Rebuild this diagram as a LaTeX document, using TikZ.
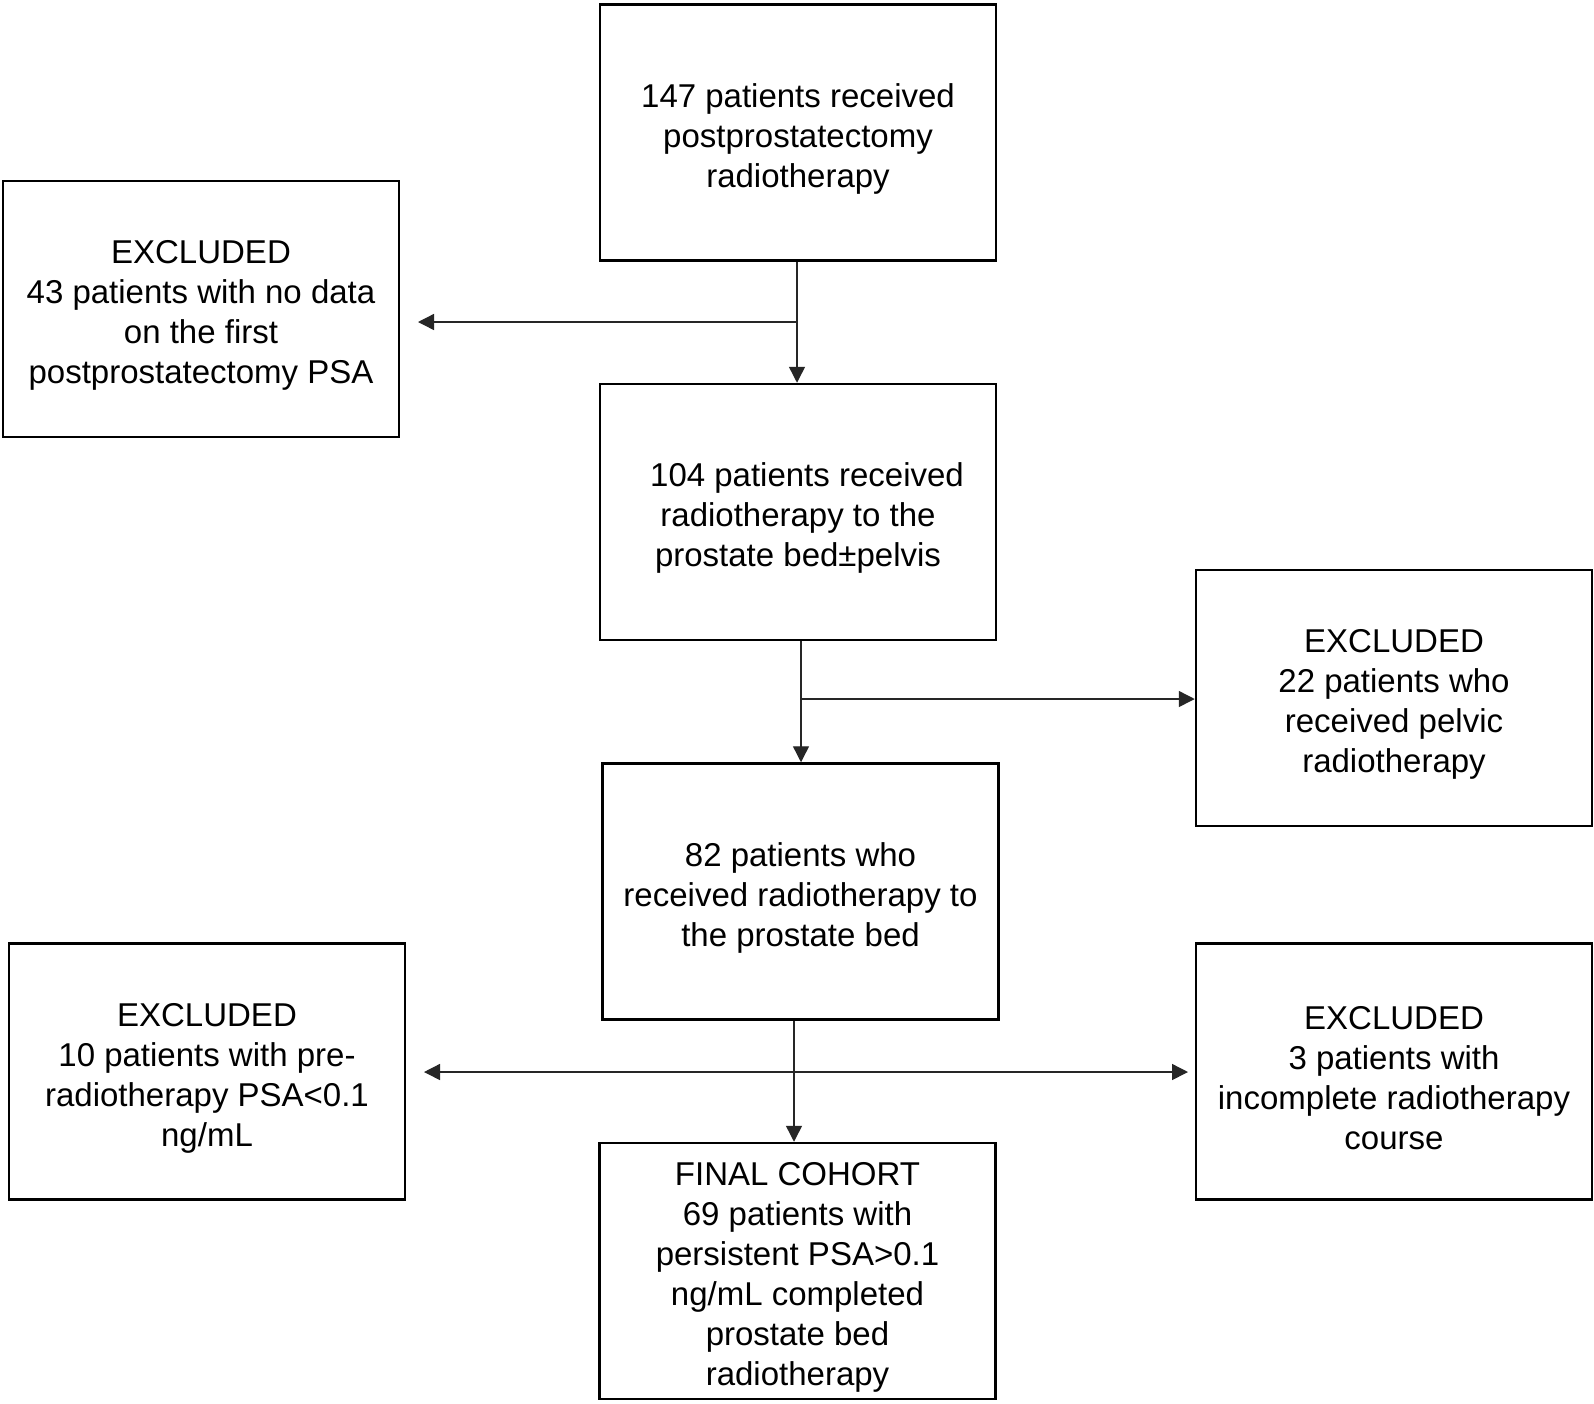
\documentclass[tikz,border=0pt]{standalone}
\usepackage{fontspec}
\setmainfont{Liberation Sans}
\usetikzlibrary{arrows.meta}
\newcommand\mytopgap{\rule{0pt}{36pt}}
\begin{document}
\begin{tikzpicture}[x=1pt,y=-1pt,
  box/.style={draw=black, line width=2.5pt, minimum width=396pt, minimum height=256pt, inner sep=0pt, align=center, font=\fontsize{33}{40}\selectfont},
  conn/.style={draw=black!85, line width=1.4pt},
  arr/.style={conn, -{Triangle[length=16pt,width=16pt]}}]
\useasboundingbox (0,0) rectangle (1594,1403);
\fill[white] (0,0) rectangle (1594,1403);
\node[box] (b1) at (798,132.5) {\mytopgap 147 patients received\\postprostatectomy\\radiotherapy};
\node[box] (e1) at (201,309) {\mytopgap EXCLUDED\\43 patients with no data\\on the first\\postprostatectomy PSA};
\node[box] (b2) at (798,512) {\mytopgap\hspace*{18pt}104 patients received\\radiotherapy to the\\prostate bed±pelvis};
\node[box] (e2) at (1394,698) {\mytopgap EXCLUDED\\22 patients who\\received pelvic\\radiotherapy};
\node[box] (b3) at (800.5,891.5) {\mytopgap 82 patients who\\received radiotherapy to\\the prostate bed};
\node[box] (e3) at (207,1071.5) {\mytopgap EXCLUDED\\10 patients with pre-\\radiotherapy PSA<0.1\\ng/mL};
\node[box] (e4) at (1394,1071.5) {\mytopgap EXCLUDED\\3 patients with\\incomplete radiotherapy\\course};
\node[box] (f) at (797.5,1271) {\mytopgap FINAL COHORT\\69 patients with\\persistent PSA>0.1\\ng/mL completed\\prostate bed\\radiotherapy};
% coordinates
\coordinate (j1) at (797,322);
\coordinate (t1) at (418,322);
\coordinate (j2) at (801,699);
\coordinate (j3) at (794,1072);
\coordinate (t3l) at (424,1072);
\coordinate (t3r) at (1188,1072);
% connectors
\draw[arr] (b1.south -| j1) -- (b2.north -| j1);
\draw[arr] (j1) -- (t1);
\draw[arr] (b2.south -| j2) -- (b3.north -| j2);
\draw[arr] (j2) -- (e2.west |- j2);
\draw[arr] (b3.south -| j3) -- (f.north -| j3);
\draw[arr] (j3) -- (t3l);
\draw[arr] (j3) -- (t3r);
\end{tikzpicture}
\end{document}
